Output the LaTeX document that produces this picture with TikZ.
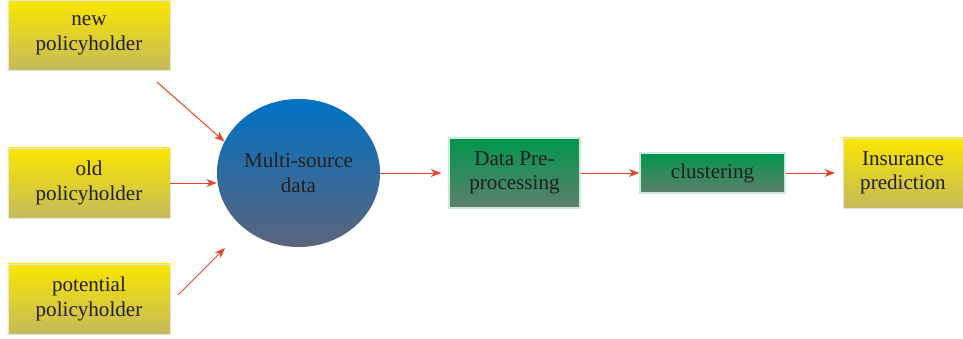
\documentclass[tikz,border=0pt]{standalone}
\usepackage{fontspec}
\setmainfont{Liberation Serif}
\usetikzlibrary{arrows.meta,shapes.geometric}

\definecolor{ytop}{RGB}{250,230,0}
\definecolor{ybot}{RGB}{196,186,92}
\definecolor{gtop}{RGB}{0,150,78}
\definecolor{gbot}{RGB}{94,128,106}
\definecolor{btop}{RGB}{0,114,194}
\definecolor{bbot}{RGB}{92,100,124}
\definecolor{flowred}{RGB}{232,66,40}
\definecolor{txt}{RGB}{35,31,32}

\begin{document}
\begin{tikzpicture}[x=0.025cm, y=-0.025cm,
    box/.style={draw=black!10, line width=0.4pt, align=center, text=txt,
        font=\fontsize{15}{17.5}\selectfont, inner sep=0pt},
    holder/.style={box, top color=ytop, bottom color=ybot,
        minimum width=4.05cm, minimum height=1.75cm},
    stage/.style={box, draw=gtop!20!white, line width=1pt, top color=gtop, bottom color=gbot},
    flow/.style={draw=flowred, line width=0.7pt, -{Stealth[length=0.26cm, width=0.2cm]}}
]
    \useasboundingbox (0, 0) rectangle (963, 339);

    % inputs
    \node[holder] (new) at (89, 35.5) {new\\policyholder};
    \node[holder] (old) at (89, 183) {old\\policyholder};
    \node[holder] (pot) at (89, 299) {potential\\policyholder};

    % merge
    \node[box, ellipse, draw=none, top color=btop, bottom color=bbot,
        minimum width=4.075cm, minimum height=3.7cm] (ms) at (298.5, 173) {Multi-source\\data};

    % pipeline
    \node[stage, minimum width=3.275cm, minimum height=1.75cm] (dp) at (514.5, 173) {Data Pre-\\processing};
    \node[stage, minimum width=3.625cm, minimum height=1cm] (cl) at (712.5, 173) {clustering};
    \node[holder, minimum width=3cm] (ip) at (903, 173) {Insurance\\prediction};

    \coordinate (newout) at (157, 82);
    \coordinate (potout) at (178, 295);
    \coordinate (potin) at (225, 248);

    \draw[flow] (newout) -- (ms.157);
    \draw[flow] (old.east) -- (old.east -| ms.west);
    \draw[flow] (potout) -- (potin);

    \draw[flow, shorten >=5pt] (ms) -- (dp);
    \draw[flow] (dp) -- (cl);
    \draw[flow, shorten >=5.5pt] (cl) -- (ip);

\end{tikzpicture}
\end{document}
